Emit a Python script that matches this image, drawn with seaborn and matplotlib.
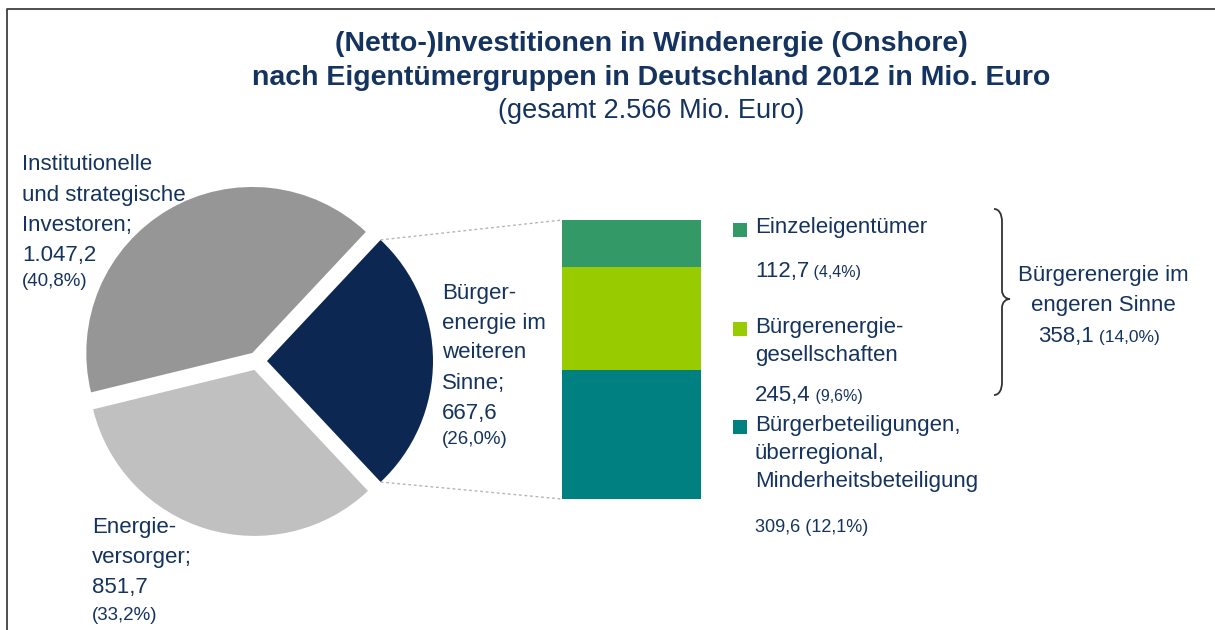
import matplotlib
matplotlib.use("Agg")
import matplotlib.pyplot as plt
import seaborn as sns
import numpy as np
from matplotlib.path import Path
from matplotlib.patches import PathPatch, Rectangle

W, H = 1215, 630

# -----------------------------
# Data
# -----------------------------
pie_names = ["Bürger-\nenergie im\nweiteren\nSinne;",
             "Institutionelle\nund strategische\nInvestoren;",
             "Energie-\nversorger;"]
pie_values = [667.6, 1047.2, 851.7]
pie_pct = [26.0, 40.8, 33.2]
pie_colors = ["#0c2852", "#969696", "#c0c0c0"]

bar_names = ["Einzeleigentümer",
             "Bürgerenergie-\ngesellschaften",
             "Bürgerbeteiligungen,\nüberregional,\nMinderheitsbeteiligung"]
bar_values = [112.7, 245.4, 309.6]
bar_pct = [4.4, 9.6, 12.1]
bar_colors = ["#339966", "#99cc00", "#008080"]

group_name = "Bürgerenergie im\nengeren Sinne"
group_value = 358.1
group_pct = 14.0

title_lines = ["(Netto-)Investitionen in Windenergie (Onshore)",
               "nach Eigentümergruppen in Deutschland 2012 in Mio. Euro"]
subtitle = "(gesamt 2.566 Mio. Euro)"

NAVY = "#15335f"


def de(v):
    # german number format: 1.047,2
    return f"{v:,.1f}".replace(",", " ").replace(".", ",").replace(" ", ".")


def Y(y):
    # picture coords (top = 0) -> axes coords
    return H - y


sns.set_theme(style="white")
plt.rcParams["font.family"] = ["Liberation Sans", "DejaVu Sans"]

fig = plt.figure(figsize=(W / 100, H / 100), dpi=100)
ax = fig.add_axes([0, 0, 1, 1])

# -----------------------------
# Pie (explode is in data units here, i.e. pixels)
# -----------------------------
wedges, _ = ax.pie(pie_values, colors=pie_colors,
                   startangle=-pie_pct[0] / 100 * 180, counterclock=True,
                   explode=[10, 9.3, 9.3], radius=166,
                   center=(257, Y(361)), wedgeprops=dict(linewidth=0))
ax.set_xlim(0, W)
ax.set_ylim(0, H)
ax.axis("off")

# -----------------------------
# Stacked bar (breakdown of Bürgerenergie)
# -----------------------------
ax_bar = fig.add_axes([562 / W, (H - 499) / H, 139 / W, 279 / H])
bottoms = np.concatenate([[0], np.cumsum(bar_values)[:-1]])
ax_bar.bar(0, bar_values, bottom=bottoms, color=bar_colors, width=1.0, linewidth=0)
ax_bar.set_xlim(-0.5, 0.5)
ax_bar.set_ylim(sum(bar_values), 0)
ax_bar.axis("off")

# dotted connectors from the blue wedge to the bar
blue = wedges[0]
cx, cy = blue.center
pos = ax_bar.get_position()
for ang, yb in [(blue.theta2, pos.y1 * H), (blue.theta1, pos.y0 * H)]:
    x0 = cx + blue.r * np.cos(np.radians(ang))
    y0 = cy + blue.r * np.sin(np.radians(ang))
    ax.plot([x0, pos.x0 * W], [y0, yb], color="#b5b5b5", lw=1.0,
            linestyle=(0, (2, 2)))

# -----------------------------
# Texts
# -----------------------------
def put_lines(x, y0, text, size=16, step=30, ha="left"):
    lines = text.split("\n")
    for i, line in enumerate(lines):
        ax.text(x, Y(y0 + i * step), line, fontsize=size, color=NAVY,
                ha=ha, va="center")
    return y0 + (len(lines) - 1) * step


# pie labels: (x, first line y)
pie_pos = [(442, 293), (22, 165), (92, 528)]
for name, v, p, (x, y) in zip(pie_names, pie_values, pie_pct, pie_pos):
    last = put_lines(x, y, name + "\n" + de(v))
    ax.text(x, Y(last + 27), f"({de(p)}%)", fontsize=13.5, color=NAVY,
            ha="left", va="center")

# legend of the bar
legend_y = [228, 327, 425]
value_y = [269, 393]
for i, (name, c) in enumerate(zip(bar_names, bar_colors)):
    ax.add_patch(Rectangle((733, Y(legend_y[i] + 9)), 14, 14, color=c, lw=0))
    put_lines(755, legend_y[i], name, step=28.5)

for v, p, y in zip(bar_values[:2], bar_pct[:2], value_y):
    t = ax.text(755, Y(y + 8), de(v), fontsize=16, color=NAVY, va="baseline")
    ax.annotate(f" ({de(p)}%)", xy=(1, Y(y + 8)), xycoords=(t, "data"),
                fontsize=11.5, color=NAVY, va="baseline")
ax.text(755, Y(528), f"{de(bar_values[2])} ({de(bar_pct[2])}%)", fontsize=13,
        color=NAVY, va="center")

# brace + group label
brace = [(994, 209), (999, 209), (1002, 214), (1002, 222),
         (1002, 290),
         (1002, 296), (1006, 299), (1010, 299),
         (1006, 299), (1002, 302), (1002, 308),
         (1002, 382),
         (1002, 390), (999, 395), (994, 395)]
codes = [Path.MOVETO, Path.CURVE4, Path.CURVE4, Path.CURVE4,
         Path.LINETO,
         Path.CURVE4, Path.CURVE4, Path.CURVE4,
         Path.CURVE4, Path.CURVE4, Path.CURVE4,
         Path.LINETO,
         Path.CURVE4, Path.CURVE4, Path.CURVE4]
ax.add_patch(PathPatch(Path([(x, Y(y)) for x, y in brace], codes),
                       facecolor="none", edgecolor="#333333", lw=1.3))

put_lines(1103, 275, group_name, ha="center")
t = ax.text(1038, Y(342), de(group_value), fontsize=16, color=NAVY, va="baseline")
ax.annotate(f" ({de(group_pct)}%)", xy=(1, Y(342)), xycoords=(t, "data"),
            fontsize=12.5, color=NAVY, va="baseline")

# title
ax.text(651, Y(44), title_lines[0], fontsize=20.5, fontweight="bold", color=NAVY,
        ha="center", va="center")
ax.text(651, Y(78), title_lines[1], fontsize=20.5, fontweight="bold", color=NAVY,
        ha="center", va="center")
ax.text(651, Y(111), subtitle, fontsize=19.5, color=NAVY, ha="center", va="center")

# frame (top and left edge)
ax.plot([7, 7, W], [0, Y(9), Y(9)], color="#404040", lw=1.3, solid_capstyle="butt")

fig.savefig("out.png", dpi=100)
